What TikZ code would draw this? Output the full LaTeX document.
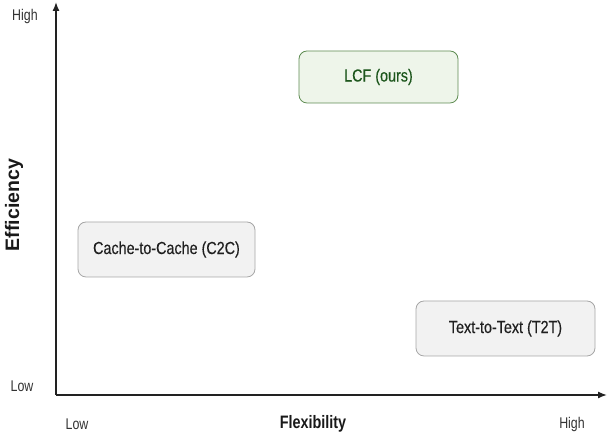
\documentclass[tikz,border=0pt]{standalone}
\usepackage{fontspec}
\setmainfont{Liberation Sans}
\newfontfamily\tickfont[FakeStretch=0.8]{Liberation Sans}
\newfontfamily\boxfont[FakeStretch=0.82, FakeBold=0.3]{Liberation Sans}
\usetikzlibrary{arrows.meta}
\definecolor{boxgray}{HTML}{F2F2F2}
\definecolor{linegray}{HTML}{A6A6A6}
\definecolor{oursfill}{HTML}{EEF5EA}
\definecolor{oursline}{HTML}{5E8C52}
\definecolor{ourstext}{HTML}{1C561C}
\definecolor{axisgray}{HTML}{222222}
\tikzset{
  method/.style={draw=linegray, fill=boxgray, rounded corners=8pt, line width=0.8pt,
    font=\boxfont\fontsize{17.5}{20}\selectfont, text=black!88},
  ours/.style={method, draw=oursline, fill=oursfill, text=ourstext},
  tick/.style={font=\tickfont\fontsize{15.5}{18}\selectfont, text=black!80},
  axislabel/.style={font=\tickfont\fontsize{18}{21}\selectfont\bfseries, text=black!90}
}
\begin{document}
\begin{tikzpicture}[x=1pt, y=1pt]
        \useasboundingbox (0,0) rectangle (608,435);
        % Ejes
        \coordinate (origin) at (56,40);
        \coordinate (ytop) at (56,433);
        \coordinate (xend) at (607,40);
        \draw[-{Latex[length=9pt,width=7pt]}, line width=1.4pt, axisgray] (origin) -- (ytop);
        \draw[-{Latex[length=9pt,width=7pt]}, line width=1.4pt, axisgray] (origin) -- (xend);

        % Etiquetas de los ejes
        \node[tick] (yhigh) at (25,418) {High};
        \node[tick] (ylow) at (22,49) {Low};
        \node[tick] (xlow) at (77,11) {Low};
        \node[tick] (xhigh) at (572,11) {High};
        \node[axislabel] (xname) at (313,11) {Flexibility};
        \node[axislabel, font=\fontsize{19.5}{22}\selectfont\bfseries, rotate=90] (yname) at (14,230) {Efficiency};

        % Metodos
        \node[ours, minimum width=159pt, minimum height=52pt] (lcf) at (378.5,358) {LCF (ours)};
        \node[method, minimum width=177pt, minimum height=55pt] (c2c) at (166.5,185.5) {Cache-to-Cache (C2C)};
        \node[method, minimum width=179pt, minimum height=55pt] (t2t) at (505.5,106.5) {Text-to-Text (T2T)};
    \end{tikzpicture}
\end{document}
